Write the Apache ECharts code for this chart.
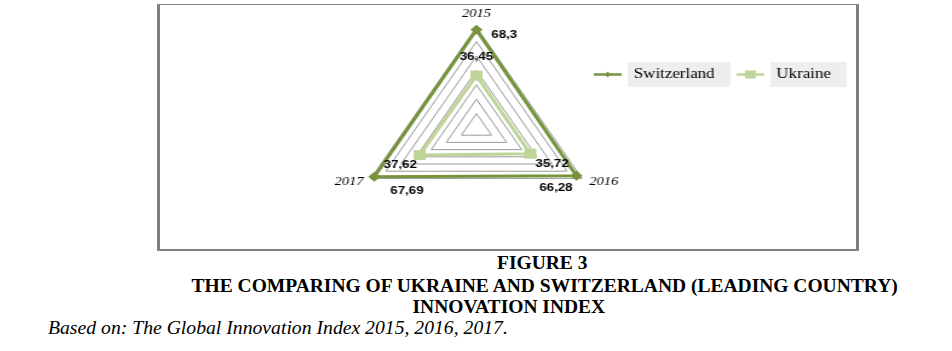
<!DOCTYPE html>
<html>
<head>
<meta charset="utf-8">
<script src="https://cdn.jsdelivr.net/npm/echarts@6/dist/echarts.min.js"></script>
<style>
  html, body { margin: 0; padding: 0; background: #ffffff; width: 952px; height: 351px; overflow: hidden; }
  #box { position: absolute; left: 157px; top: 4px; width: 702px; height: 247px; box-sizing: border-box;
         border-left: 3px solid #808080; border-right: 3px solid #808080; border-top: 1px solid #808080; border-bottom: 2px solid #808080; }
  #chart { position: absolute; left: 157px; top: 4px; width: 580px; height: 247px; transform: scaleX(1.21); transform-origin: 0 0; }
  .cap { position: absolute; white-space: nowrap; font-family: "Liberation Serif", "Times New Roman", serif; color: #000; line-height: 20px; }
</style>
</head>
<body>
<div id="box"></div>
<div id="chart"></div>
<div class="cap" id="c1" style="top:253px; font-weight:bold; font-size:19.5px;">FIGURE 3</div>
<div class="cap" id="c2" style="top:276px; font-weight:bold; font-size:19.5px;">THE COMPARING OF UKRAINE AND SWITZERLAND (LEADING COUNTRY)</div>
<div class="cap" id="c3" style="top:297px; font-weight:bold; font-size:19.5px;">INNOVATION INDEX</div>
<div class="cap" id="c4" style="top:317px; left:48px; font-style:italic; font-size:19.7px;">Based on: The Global Innovation Index 2015, 2016, 2017.</div>
<script>
// ---- data ----
var categories = ['2015', '2016', '2017'];
var seriesNames = ['Switzerland', 'Ukraine'];
var switzerland = [68.3, 66.28, 67.69];
var ukraine = [36.45, 35.72, 37.62];
var axisMax = 70;
var axisSplits = 7;

// ---- layout / style (not data) ----
var drawOrder = [0, 2, 1]; // radar goes counter-clockwise: 2015 top, 2017 bottom-left, 2016 bottom-right
var colors = ['#77933c', '#bfd497'];
var symbols = ['diamond', 'rect'];
var symbolSizes = [10, 10];
var labelOffsets = [
  [[23, 5], [-17, 12], [27, 14]],   // Switzerland: 2015, 2016, 2017
  [[0, -19], [18, 10], [-16, 10]]   // Ukraine
];
var legendIcons = [
  'path://M0,2.8 L23,2.8 L23,5.2 L0,5.2 Z M11.5,1 L14,4 L11.5,7 L9,4 Z',
  'path://M0,2.8 L23,2.8 L23,5.2 L0,5.2 Z M7,0 L16,0 L16,8 L7,8 Z'
];

function reorder(arr) { return drawOrder.map(function (i) { return arr[i]; }); }
function fmt(v) { return String(v).replace('.', ','); }

var allValues = [switzerland, ukraine];
var mainData = [];
var labelData = [];
allValues.forEach(function (vals, s) {
  mainData.push({
    name: seriesNames[s],
    value: reorder(vals),
    symbol: symbols[s],
    symbolSize: symbolSizes[s],
    lineStyle: { color: colors[s], width: 3 },
    itemStyle: { color: colors[s], borderWidth: 0 }
  });
  vals.forEach(function (v, k) {
    labelData.push({
      name: 'lbl' + s + k,
      value: reorder(vals),
      symbol: 'circle',
      symbolSize: 1,
      lineStyle: { opacity: 0, width: 0 },
      itemStyle: { color: 'rgba(0,0,0,0)', borderWidth: 0 },
      label: {
        show: true,
        position: 'inside',
        offset: labelOffsets[s][k],
        color: '#000',
        fontFamily: '"Liberation Sans", Arial, sans-serif',
        fontWeight: 'bold',
        fontSize: 11,
        formatter: (function (target) {
          return function (p) { return p.value === target ? fmt(p.value) : ''; };
        })(v)
      }
    });
  });
});

var chart = echarts.init(document.getElementById('chart'), null, { renderer: 'canvas' });
chart.setOption({
  animation: false,
  backgroundColor: 'transparent',
  color: colors,
  legend: {
    data: seriesNames.map(function (n, i) { return { name: n, icon: legendIcons[i] }; }),
    left: 361,
    top: 58,
    padding: 0,
    itemGap: 5,
    itemWidth: 23,
    itemHeight: 8,
    selectedMode: false,
    itemStyle: { borderWidth: 0 },
    textStyle: {
      fontFamily: '"Liberation Serif", "Times New Roman", serif',
      fontSize: 14,
      color: '#000',
      backgroundColor: '#eeeeee',
      padding: [5, 13, 5, 5],
      lineHeight: 15
    }
  },
  radar: {
    center: [264, 124],
    radius: 100.8,
    startAngle: 90,
    shape: 'polygon',
    splitNumber: axisSplits,
    nameGap: 7,
    axisName: {
      color: '#000',
      fontFamily: '"Liberation Serif", "Times New Roman", serif',
      fontStyle: 'italic',
      fontSize: 12
    },
    indicator: reorder(categories).map(function (c) { return { name: c, min: 0, max: axisMax }; }),
    axisLine: { show: false },
    splitLine: { lineStyle: { color: '#9a9a9a', width: 1 } },
    splitArea: { show: false }
  },
  series: [
    { type: 'radar', z: 2, data: mainData },
    { type: 'radar', z: 5, silent: true, data: labelData }
  ]
});

// center caption lines like the reference
function centerAt(id, cx) {
  var el = document.getElementById(id);
  el.style.left = (cx - el.offsetWidth / 2) + 'px';
}
centerAt('c1', 542);
centerAt('c2', 544.5);
centerAt('c3', 509);
</script>
</body>
</html>
